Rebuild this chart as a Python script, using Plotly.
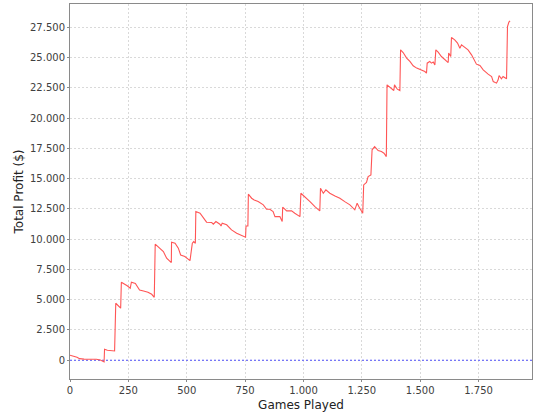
import plotly.graph_objects as go

games = [0, 10, 20, 30, 41, 60, 113, 130, 146, 148, 160, 175, 191, 196, 205, 217,
         220, 235, 245, 258, 263, 280, 290, 298, 315, 334, 350, 361, 365, 385, 400,
         414, 434, 435, 450, 464, 474, 492, 514, 524, 530, 537, 539, 557, 571, 585,
         607, 614, 625, 642, 647, 652, 671, 692, 714, 735, 752, 754, 762, 764, 778,
         789, 806, 828, 842, 856, 870, 878, 899, 909, 911, 928, 949, 963, 985, 989,
         1006, 1028, 1049, 1070, 1073, 1085, 1096, 1113, 1135, 1156, 1177, 1199,
         1220, 1230, 1237, 1249, 1254, 1258, 1270, 1277, 1289, 1294, 1305, 1320,
         1334, 1345, 1355, 1358, 1377, 1387, 1390, 1402, 1413, 1416, 1427, 1442,
         1456, 1470, 1485, 1506, 1520, 1527, 1530, 1541, 1548, 1556, 1563, 1567,
         1577, 1591, 1606, 1620, 1622, 1631, 1634, 1648, 1660, 1670, 1677, 1688,
         1705, 1720, 1731, 1741, 1756, 1770, 1791, 1806, 1813, 1827, 1834, 1838,
         1848, 1855, 1870, 1874, 1880, 1885]
profit = [420, 380, 300, 250, 130, 90, 80, 20, -140, 910, 830, 780, 770, 4710, 4550, 4300,
          6450, 6300, 6150, 5950, 6450, 6350, 6100, 5810, 5720, 5620, 5450, 5200, 9590, 9260, 8980,
          8430, 8070, 9760, 9670, 9260, 8700, 8570, 8230, 9670, 9800, 9670, 12290, 12150, 11740, 11410,
          11380, 11240, 11460, 11240, 11100, 11330, 11190, 10770, 10500, 10280, 10170, 11100, 11100, 13720, 13390,
          13250, 13110, 12840, 12480, 12480, 12290, 11870, 11870, 11460, 12650, 12340, 12340, 12150, 11870, 13800,
          13530, 13110, 12700, 12340, 14220, 13800, 14080, 13800, 13580, 13390, 13110, 12840,
          12430, 12980, 12700, 12290, 12150, 14490, 14690, 15180, 15320, 17390, 17660, 17330,
          17250, 17110, 16830, 22760, 22490, 22290, 22760, 22400, 22290, 25650, 25430, 24970,
          24690, 24330, 24140, 24000, 23860, 23730, 24550, 24690, 24550, 24640, 24410, 25650,
          25460, 25100, 24830, 24600, 25380, 25100, 26670, 26480, 26210, 25790, 26070, 25930,
          25650, 25240, 24830, 24470, 24360, 24000, 23640, 23450, 23030, 22900, 23170, 23530,
          23260, 23450, 23260, 27580, 27950, 28050]

x_ticks = [0, 250, 500, 750, 1000, 1250, 1500, 1750]
x_tick_labels = ["0", "250", "500", "750", "1.000", "1.250", "1.500", "1.750"]
y_ticks = [0, 2500, 5000, 7500, 10000, 12500, 15000, 17500, 20000, 22500, 25000, 27500]
y_tick_labels = ["0", "2.500", "5.000", "7.500", "10.000", "12.500", "15.000", "17.500",
                 "20.000", "22.500", "25.000", "27.500"]
baseline = [0, 0]

fig = go.Figure()
fig.add_trace(go.Scatter(x=[0, 1979], y=baseline, mode="lines",
                         line=dict(color="#5555FF", width=1, dash="2px,2px"),
                         hoverinfo="skip", showlegend=False))
fig.add_trace(go.Scatter(x=games, y=profit, mode="lines",
                         line=dict(color="#FF5555", width=1.1),
                         showlegend=False))

font = "DejaVu Sans, Liberation Sans, sans-serif"
fig.update_layout(
    width=540, height=420,
    margin=dict(l=70, r=8, t=4, b=41),
    paper_bgcolor="white", plot_bgcolor="white",
    font=dict(family=font, color="#333333"),
    xaxis=dict(range=[0, 1979], tickvals=x_ticks, ticktext=x_tick_labels, automargin=False,
               showgrid=True, gridcolor="#d9d9d9", griddash="2px,2px", gridwidth=1,
               zeroline=False, showline=True, linecolor="#8a8a8a", linewidth=1, mirror=True,
               ticks="outside", ticklen=2, tickcolor="#8a8a8a",
               tickfont=dict(size=10, color="#404040"),
               title=dict(text="Games Played", font=dict(size=12, color="#222222"), standoff=5)),
    yaxis=dict(range=[-1550, 29440], tickvals=y_ticks, ticktext=y_tick_labels, automargin=False,
               showgrid=True, gridcolor="#d9d9d9", griddash="2px,2px", gridwidth=1,
               zeroline=False, showline=True, linecolor="#8a8a8a", linewidth=1, mirror=True,
               ticks="outside", ticklen=2, tickcolor="#8a8a8a",
               tickfont=dict(size=10, color="#404040"),
               title=dict(text="Total Profit ($)", font=dict(size=12, color="#222222"), standoff=3)),
)

fig.write_html("out.html", config={"displayModeBar": False},
               post_script="document.body.style.margin='0';")
